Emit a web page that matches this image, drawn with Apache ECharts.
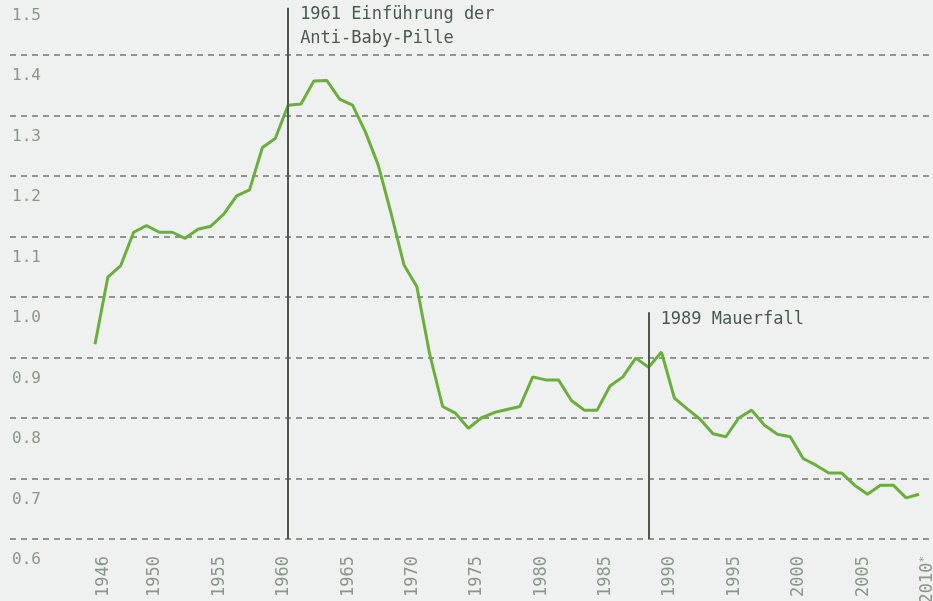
<!DOCTYPE html>
<html>
<head>
<meta charset="utf-8">
<script src="https://cdn.jsdelivr.net/npm/echarts@6/dist/echarts.min.js"></script>
<style>
  html, body { margin: 0; padding: 0; background: #eff1f0; }
  #echarts { width: 933px; height: 601px; }
</style>
</head>
<body>
<div id="echarts"></div>
<script>
// Lebendgeborene in Deutschland (Mio.)
var years = [];
for (var y = 1946; y <= 2010; y++) years.push(String(y));

var births = [
    0.922, 1.033, 1.052, 1.107, 1.118, 1.107, 1.107, 1.097, 1.112, 1.117,
    1.137, 1.167, 1.177, 1.247, 1.262, 1.317, 1.319, 1.357, 1.358, 1.327,
    1.317, 1.273, 1.218, 1.138, 1.053, 1.017, 0.905, 0.819, 0.808, 0.783,
    0.800, 0.809, 0.814, 0.819, 0.868, 0.863, 0.863, 0.829, 0.813, 0.813,
    0.853, 0.868, 0.899, 0.884, 0.909, 0.833, 0.815, 0.798, 0.774, 0.769,
    0.800, 0.813, 0.788, 0.773, 0.769, 0.733, 0.722, 0.709, 0.709, 0.689,
    0.674, 0.689, 0.689, 0.668, 0.674
];

var labelYears = ['1946', '1950', '1955', '1960', '1965', '1970', '1975', '1980',
    '1985', '1990', '1995', '2000', '2005', '2010'];
var labelTexts = ['1946', '1950', '1955', '1960', '1965', '1970', '1975', '1980',
    '1985', '1990', '1995', '2000', '2005', '2010{s|*}'];

var yMin = 0.6, yMax = 1.5, yStep = 0.1;

// Ereignisse: Jahr, Oberkante der Linie (Wert), Text
var eventYears = ['1961', '1989'];
var eventTops = [1.478, 0.975];
var eventTexts = ['1961 Einführung der\nAnti-Baby-Pille', '1989 Mauerfall'];
var eventOffsets = [19, 7];

var FONT = 'DejaVu Sans Mono';
var labelColor = '#8a968b';
var noteColor = '#4b584e';

function showChart() {
    var myChart = echarts.init(document.getElementById('echarts'), null, { renderer: 'canvas' });

    var markLines = [], markPoints = [];
    for (var i = 0; i < eventYears.length; i++) {
        markLines.push([
            { coord: [eventYears[i], yMin] },
            { coord: [eventYears[i], eventTops[i]] }
        ]);
        markPoints.push({
            coord: [eventYears[i], eventTops[i]],
            label: {
                formatter: eventTexts[i],
                offset: [0, eventOffsets[i]]
            }
        });
    }

    var option = {
        backgroundColor: '#eff1f0',
        animation: false,
        grid: [
            { left: 10, right: 0, top: -5.5, bottom: 62, outerBoundsMode: 'none', containLabel: false },
            { left: 95, right: 14, top: -5.5, bottom: 62, outerBoundsMode: 'none', containLabel: false }
        ],
        xAxis: [{
            gridIndex: 0,
            type: 'value',
            show: false
        }, {
            gridIndex: 1,
            type: 'category',
            boundaryGap: false,
            data: years,
            axisLine: { show: false },
            axisTick: { show: false },
            splitLine: { show: false },
            axisLabel: {
                interval: function (index, value) {
                    return labelYears.indexOf(value) >= 0;
                },
                formatter: function (value) {
                    return labelTexts[labelYears.indexOf(value)];
                },
                rotate: 90,
                margin: 17,
                verticalAlign: 'top',
                color: labelColor,
                fontFamily: FONT,
                fontSize: 17,
                rich: {
                    s: { fontSize: 11, color: labelColor, fontFamily: FONT, verticalAlign: 'top' }
                }
            }
        }],
        yAxis: [{
            gridIndex: 0,
            type: 'value',
            min: yMin,
            max: yMax,
            interval: yStep,
            axisLine: { show: false },
            axisTick: { show: false },
            axisLabel: {
                inside: true,
                margin: 2,
                align: 'left',
                verticalAlign: 'top',
                lineHeight: 42,
                color: labelColor,
                fontFamily: FONT,
                fontSize: 16,
                formatter: function (v) { return v.toFixed(1); }
            },
            splitLine: {
                show: true,
                lineStyle: { color: '#8d978f', width: 2, type: [6, 5] }
            }
        }, {
            gridIndex: 1,
            type: 'value',
            min: yMin,
            max: yMax,
            interval: yStep,
            show: false,
            splitLine: { show: false }
        }],
        series: [{
            name: 'Geburten',
            type: 'line',
            xAxisIndex: 1,
            yAxisIndex: 1,
            data: births,
            symbol: 'none',
            lineStyle: { color: '#6aaf3c', width: 3 },
            itemStyle: { color: '#6aaf3c' },
            markLine: {
                silent: true,
                symbol: 'none',
                label: { show: false },
                lineStyle: { color: noteColor, width: 2, type: 'solid' },
                data: markLines
            },
            markPoint: {
                silent: true,
                symbol: 'circle',
                symbolSize: 0,
                label: {
                    show: true,
                    position: 'right',
                    distance: 12,
                    align: 'left',
                    color: noteColor,
                    fontFamily: FONT,
                    fontSize: 17,
                    lineHeight: 24
                },
                data: markPoints
            }
        }]
    };
    myChart.setOption(option);
}

showChart();
</script>
</body>
</html>
